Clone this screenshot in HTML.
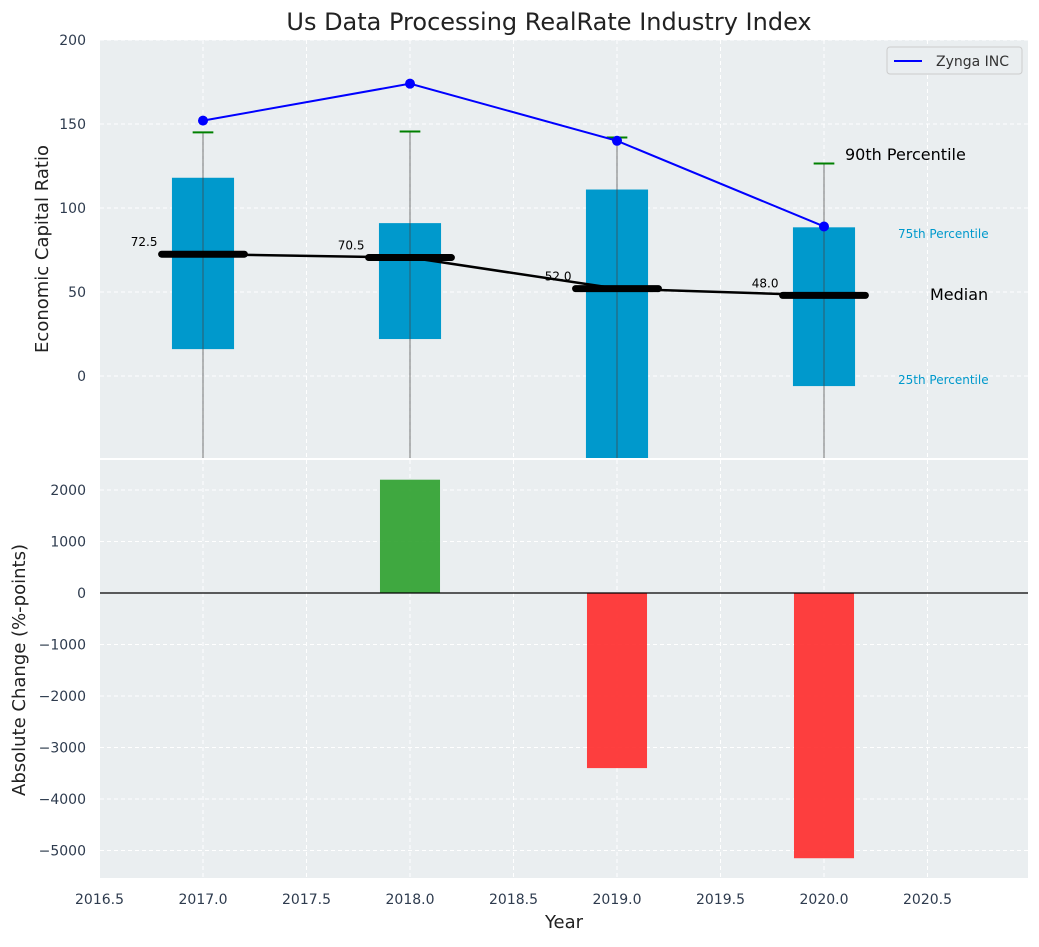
<!DOCTYPE html>
<html><head><meta charset="utf-8"><style>
body{margin:0;background:#fff;font-family:"Liberation Sans","DejaVu Sans",sans-serif}
svg text{font-family:"DejaVu Sans","Liberation Sans",sans-serif}
</style></head><body>
<svg id="c" width="1039" height="942" xmlns="http://www.w3.org/2000/svg"></svg>
<script>
const years=[2017,2018,2019,2020];
const q25=[16,22,-60,-6];
const q75=[118,91,111,88.5];
const p90=[145,145.5,142,126.5];
const p10=[-60,-60,-60,-60];
const medians=[72.5,70.5,52.0,48.0];
const zynga=[152,174,140,89];
const changes=[0,2200,-3400,-5150];
const xTicks=[2016.5,2017,2017.5,2018,2018.5,2019,2019.5,2020,2020.5];
const yTopTicks=[0,50,100,150,200];
const yBotTicks=[-5000,-4000,-3000,-2000,-1000,0,1000,2000];

const NS="http://www.w3.org/2000/svg";
const svg=document.getElementById('c');
function el(t,a,p){const e=document.createElementNS(NS,t);for(const k in a)e.setAttribute(k,a[k]);(p||svg).appendChild(e);return e;}
const X=v=>99.5+(v-2016.5)*207;
const L=100,R=1028;
const T1=40,B1=458,T2=460,B2=878;
const Y1=v=>376-v*1.68;
const Y2=v=>593-v*0.0515;
const TC='#2e3b4e';

let bg1=el('rect',{x:L,y:T1,width:R-L,height:B1-T1,fill:'#eaeef0'});

let bg2=el('rect',{x:L,y:T2,width:R-L,height:B2-T2,fill:'#eaeef0'});


const clip1=el('clipPath',{id:'cl1'});el('rect',{x:L,y:T1,width:R-L,height:B1-T1},clip1);
const clip2=el('clipPath',{id:'cl2'});el('rect',{x:L,y:T2,width:R-L,height:B2-T2},clip2);
const g1=el('g',{'clip-path':'url(#cl1)'});
const g2=el('g',{'clip-path':'url(#cl2)'});

xTicks.forEach(t=>{
  el('line',{x1:X(t),x2:X(t),y1:T1,y2:B1,stroke:'#fff','stroke-dasharray':'4,3'},g1);
  el('line',{x1:X(t),x2:X(t),y1:T2,y2:B2,stroke:'#fff','stroke-dasharray':'4,3'},g2);
  const tx=el('text',{x:X(t),y:B2+26,'text-anchor':'middle','font-size':14,fill:TC});tx.textContent=t.toFixed(1);
  
});
yTopTicks.forEach(t=>{
  el('line',{x1:L,x2:R,y1:Y1(t),y2:Y1(t),stroke:'#fff','stroke-dasharray':'4,3'},g1);
  const tx=el('text',{x:L-14,y:Y1(t)+5,'text-anchor':'end','font-size':14,fill:TC});tx.textContent=t;
  
});
yBotTicks.forEach(t=>{
  el('line',{x1:L,x2:R,y1:Y2(t),y2:Y2(t),stroke:'#fff','stroke-dasharray':'4,3'},g2);
  const tx=el('text',{x:L-14,y:Y2(t)+5,'text-anchor':'end','font-size':14,fill:TC});tx.textContent=(t<0?'−'+(-t):t);
  
});

years.forEach((yr,i)=>{
  const b=el('rect',{x:X(yr-0.15),y:Y1(q75[i]),width:0.3*207,height:Y1(q25[i])-Y1(q75[i]),fill:'#0099cc'},g1);
  
  const w=el('line',{x1:X(yr),x2:X(yr),y1:Y1(p90[i]),y2:Y1(p10[i]),stroke:'#444','stroke-opacity':0.6,'stroke-width':1.2},g1);
  
  const c=el('line',{x1:X(yr-0.05),x2:X(yr+0.05),y1:Y1(p90[i]),y2:Y1(p90[i]),stroke:'green','stroke-width':2},g1);
  
});
let mp=years.map((y,i)=>X(y)+','+Y1(medians[i])).join(' ');
const ml=el('polyline',{points:mp,fill:'none',stroke:'#000','stroke-width':2.5},g1);

years.forEach((yr,i)=>{
  const m=el('line',{x1:X(yr-0.2),x2:X(yr+0.2),y1:Y1(medians[i]),y2:Y1(medians[i]),stroke:'#000','stroke-width':7,'stroke-linecap':'round'},g1);
  
  const t=el('text',{x:X(yr-0.22),y:Y1(medians[i])-8,'text-anchor':'end','font-size':12,fill:'#000'});t.textContent=medians[i].toFixed(1);
  
});
const zl=el('polyline',{points:years.map((y,i)=>X(y)+','+Y1(zynga[i])).join(' '),fill:'none',stroke:'#0000ff','stroke-width':2},g1);

years.forEach((yr,i)=>{
  const p=el('circle',{cx:X(yr),cy:Y1(zynga[i]),r:5,fill:'#0000ff'},g1);
  
});
function ann(txt,x,y,fs,col,name){const t=el('text',{x:x,y:y,'font-size':fs,fill:col});t.textContent=txt;}
ann('90th Percentile',845,160,16,'#000','p90-annotation');
ann('Median',930,300,16,'#000','median-annotation');
ann('75th Percentile',898,238,12,'#0099cc','p75-annotation');
ann('25th Percentile',898,384,12,'#0099cc','p25-annotation');

years.forEach((yr,i)=>{
  const v=changes[i];if(v===0)return;
  const b=el('rect',{x:X(yr-0.145),y:Math.min(Y2(0),Y2(v)),width:0.29*207,height:Math.abs(Y2(v)-Y2(0)),fill:v>0?'#2ca02c':'#ff2a2a','fill-opacity':0.9},g2);
  
});
el('line',{x1:L,x2:R,y1:Y2(0),y2:Y2(0),stroke:'#000','stroke-width':1.2},g2);

const lg=el('g',{});
el('rect',{x:887,y:47,width:135,height:27,rx:3,fill:'#eaeef0',stroke:'#ccc'},lg);
el('line',{x1:894,x2:922,y1:61,y2:61,stroke:'#0000ff','stroke-width':2},lg);
const lt=el('text',{x:936,y:66,'font-size':14,fill:'#333'},lg);lt.textContent='Zynga INC';

ann('Us Data Processing RealRate Industry Index',549,30,24,'#222','chart-title');
svg.lastChild.setAttribute('text-anchor','middle');
ann('Year',564,928,18,'#222','x-axis-title');svg.lastChild.setAttribute('text-anchor','middle');
let yt=el('text',{x:0,y:0,'font-size':18,fill:'#222','text-anchor':'middle',transform:'translate(48,249) rotate(-90)'});yt.textContent='Economic Capital Ratio';

let yb=el('text',{x:0,y:0,'font-size':18,fill:'#222','text-anchor':'middle',transform:'translate(25,670) rotate(-90)'});yb.textContent='Absolute Change (%-points)';

</script>
</body></html>
